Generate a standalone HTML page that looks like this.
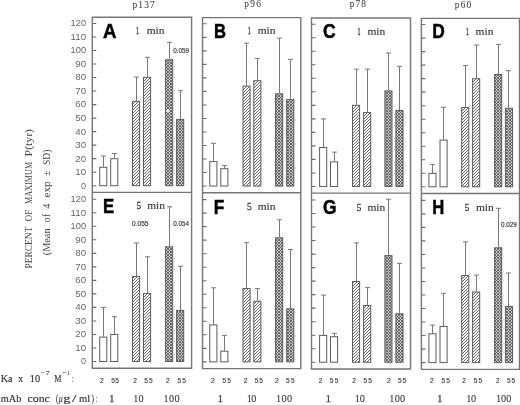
<!DOCTYPE html><html><head><meta charset="utf-8"><style>
html,body{margin:0;padding:0;background:#fff;width:520px;height:405px;overflow:hidden}
svg{display:block;will-change:transform}
.ser{font-family:"Liberation Serif",serif}
.san{font-family:"Liberation Sans",sans-serif}
</style></head><body>
<svg width="520" height="405" viewBox="0 0 520 405">
<defs>
<pattern id="hatch" patternUnits="userSpaceOnUse" width="3" height="3"><path d="M-1,1 L1,-1 M0,3 L3,0 M2,4 L4,2" stroke="#626262" stroke-width="1.0"/></pattern>
<pattern id="cross" patternUnits="userSpaceOnUse" width="3" height="3"><rect width="3" height="3" fill="#d0d0d0"/><path d="M-1,1 L1,-1 M0,3 L3,0 M2,4 L4,2 M-1,2 L1,4 M0,0 L3,3 M2,-1 L4,1" stroke="#444" stroke-width="0.75"/></pattern>
</defs>
<rect width="520" height="405" fill="#fff"/>
<path d="M92.3,17.3 H191.6 V368.3 H92.3 Z M92.3,192.4 H191.6" fill="none" stroke="#767676" stroke-width="1.4"/>
<path d="M92.3,185.70 h4 M92.3,172.18 h4 M92.3,158.66 h4 M92.3,145.14 h4 M92.3,131.62 h4 M92.3,118.10 h4 M92.3,104.58 h4 M92.3,91.06 h4 M92.3,77.54 h4 M92.3,64.02 h4 M92.3,50.50 h4 M92.3,36.98 h4 M92.3,23.46 h4" stroke="#6a6a6a" stroke-width="1.1"/>
<path d="M103.50,166.80 V156.00 M101.00,156.00 h5" stroke="#777" stroke-width="1"/>
<rect x="99.70" y="167.30" width="7.10" height="18.40" fill="#fff" stroke="#5c5c5c" stroke-width="1"/>
<path d="M114.50,158.20 V153.50 M112.00,153.50 h5" stroke="#777" stroke-width="1"/>
<rect x="110.70" y="158.70" width="7.10" height="27.00" fill="#fff" stroke="#5c5c5c" stroke-width="1"/>
<path d="M136.50,100.80 V77.10 M134.00,77.10 h5" stroke="#777" stroke-width="1"/>
<rect x="132.50" y="101.30" width="7.10" height="84.40" fill="url(#hatch)" stroke="#5c5c5c" stroke-width="1"/>
<path d="M147.50,76.80 V57.30 M145.00,57.30 h5" stroke="#777" stroke-width="1"/>
<rect x="143.50" y="77.30" width="7.10" height="108.40" fill="url(#hatch)" stroke="#5c5c5c" stroke-width="1"/>
<path d="M169.50,59.30 V42.30 M167.00,42.30 h5" stroke="#777" stroke-width="1"/>
<rect x="165.60" y="59.80" width="7.10" height="125.90" fill="url(#cross)" stroke="#5c5c5c" stroke-width="1"/>
<path d="M180.50,118.90 V90.70 M178.00,90.70 h5" stroke="#777" stroke-width="1"/>
<rect x="176.60" y="119.40" width="7.10" height="66.30" fill="url(#cross)" stroke="#5c5c5c" stroke-width="1"/>
<path d="M92.3,361.50 h4 M92.3,347.98 h4 M92.3,334.46 h4 M92.3,320.94 h4 M92.3,307.42 h4 M92.3,293.90 h4 M92.3,280.38 h4 M92.3,266.86 h4 M92.3,253.34 h4 M92.3,239.82 h4 M92.3,226.30 h4 M92.3,212.78 h4 M92.3,199.26 h4" stroke="#6a6a6a" stroke-width="1.1"/>
<path d="M103.50,336.60 V307.40 M101.00,307.40 h5" stroke="#777" stroke-width="1"/>
<rect x="99.70" y="337.10" width="7.10" height="24.40" fill="#fff" stroke="#5c5c5c" stroke-width="1"/>
<path d="M114.50,333.90 V316.70 M112.00,316.70 h5" stroke="#777" stroke-width="1"/>
<rect x="110.70" y="334.40" width="7.10" height="27.10" fill="#fff" stroke="#5c5c5c" stroke-width="1"/>
<path d="M136.50,275.90 V243.00 M134.00,243.00 h5" stroke="#777" stroke-width="1"/>
<rect x="132.50" y="276.40" width="7.10" height="85.10" fill="url(#hatch)" stroke="#5c5c5c" stroke-width="1"/>
<path d="M147.50,293.10 V256.80 M145.00,256.80 h5" stroke="#777" stroke-width="1"/>
<rect x="143.50" y="293.60" width="7.10" height="67.90" fill="url(#hatch)" stroke="#5c5c5c" stroke-width="1"/>
<path d="M169.50,246.30 V206.80 M167.00,206.80 h5" stroke="#777" stroke-width="1"/>
<rect x="165.60" y="246.80" width="7.10" height="114.70" fill="url(#cross)" stroke="#5c5c5c" stroke-width="1"/>
<path d="M180.50,309.90 V266.30 M178.00,266.30 h5" stroke="#777" stroke-width="1"/>
<rect x="176.60" y="310.40" width="7.10" height="51.10" fill="url(#cross)" stroke="#5c5c5c" stroke-width="1"/>
<path d="M202.5,17.650000000000002 H300.8 V368.65000000000003 H202.5 Z M202.5,192.75 H300.8" fill="none" stroke="#767676" stroke-width="1.4"/>
<path d="M202.5,186.05 h4 M202.5,172.53 h4 M202.5,159.01 h4 M202.5,145.49 h4 M202.5,131.97 h4 M202.5,118.45 h4 M202.5,104.93 h4 M202.5,91.41 h4 M202.5,77.89 h4 M202.5,64.37 h4 M202.5,50.85 h4 M202.5,37.33 h4 M202.5,23.81 h4" stroke="#6a6a6a" stroke-width="1.1"/>
<path d="M213.50,161.10 V143.30 M211.00,143.30 h5" stroke="#777" stroke-width="1"/>
<rect x="209.80" y="161.60" width="7.10" height="24.45" fill="#fff" stroke="#5c5c5c" stroke-width="1"/>
<path d="M224.50,168.20 V165.60 M222.00,165.60 h5" stroke="#777" stroke-width="1"/>
<rect x="220.80" y="168.70" width="7.10" height="17.35" fill="#fff" stroke="#5c5c5c" stroke-width="1"/>
<path d="M246.50,85.60 V43.20 M244.00,43.20 h5" stroke="#777" stroke-width="1"/>
<rect x="243.00" y="86.10" width="7.10" height="99.95" fill="url(#hatch)" stroke="#5c5c5c" stroke-width="1"/>
<path d="M257.50,80.20 V58.40 M255.00,58.40 h5" stroke="#777" stroke-width="1"/>
<rect x="253.80" y="80.70" width="7.10" height="105.35" fill="url(#hatch)" stroke="#5c5c5c" stroke-width="1"/>
<path d="M279.50,93.30 V38.10 M277.00,38.10 h5" stroke="#777" stroke-width="1"/>
<rect x="275.60" y="93.80" width="7.10" height="92.25" fill="url(#cross)" stroke="#5c5c5c" stroke-width="1"/>
<path d="M290.50,99.10 V59.30 M288.00,59.30 h5" stroke="#777" stroke-width="1"/>
<rect x="286.70" y="99.60" width="7.10" height="86.45" fill="url(#cross)" stroke="#5c5c5c" stroke-width="1"/>
<path d="M202.5,361.85 h4 M202.5,348.33 h4 M202.5,334.81 h4 M202.5,321.29 h4 M202.5,307.77 h4 M202.5,294.25 h4 M202.5,280.73 h4 M202.5,267.21 h4 M202.5,253.69 h4 M202.5,240.17 h4 M202.5,226.65 h4 M202.5,213.13 h4 M202.5,199.61 h4" stroke="#6a6a6a" stroke-width="1.1"/>
<path d="M213.50,324.40 V287.80 M211.00,287.80 h5" stroke="#777" stroke-width="1"/>
<rect x="209.80" y="324.90" width="7.10" height="36.95" fill="#fff" stroke="#5c5c5c" stroke-width="1"/>
<path d="M224.50,350.70 V335.60 M222.00,335.60 h5" stroke="#777" stroke-width="1"/>
<rect x="220.80" y="351.20" width="7.10" height="10.65" fill="#fff" stroke="#5c5c5c" stroke-width="1"/>
<path d="M246.50,288.00 V242.70 M244.00,242.70 h5" stroke="#777" stroke-width="1"/>
<rect x="243.00" y="288.50" width="7.10" height="73.35" fill="url(#hatch)" stroke="#5c5c5c" stroke-width="1"/>
<path d="M257.50,300.70 V288.60 M255.00,288.60 h5" stroke="#777" stroke-width="1"/>
<rect x="253.80" y="301.20" width="7.10" height="60.65" fill="url(#hatch)" stroke="#5c5c5c" stroke-width="1"/>
<path d="M279.50,237.30 V219.80 M277.00,219.80 h5" stroke="#777" stroke-width="1"/>
<rect x="275.60" y="237.80" width="7.10" height="124.05" fill="url(#cross)" stroke="#5c5c5c" stroke-width="1"/>
<path d="M290.50,308.30 V249.50 M288.00,249.50 h5" stroke="#777" stroke-width="1"/>
<rect x="286.70" y="308.80" width="7.10" height="53.05" fill="url(#cross)" stroke="#5c5c5c" stroke-width="1"/>
<path d="M311.5,18.05 H410.5 V369.05 H311.5 Z M311.5,193.15 H410.5" fill="none" stroke="#767676" stroke-width="1.4"/>
<path d="M311.5,186.45 h4 M311.5,172.93 h4 M311.5,159.41 h4 M311.5,145.89 h4 M311.5,132.37 h4 M311.5,118.85 h4 M311.5,105.33 h4 M311.5,91.81 h4 M311.5,78.29 h4 M311.5,64.77 h4 M311.5,51.25 h4 M311.5,37.73 h4 M311.5,24.21 h4" stroke="#6a6a6a" stroke-width="1.1"/>
<path d="M323.50,147.00 V118.90 M321.00,118.90 h5" stroke="#777" stroke-width="1"/>
<rect x="319.60" y="147.50" width="7.10" height="38.95" fill="#fff" stroke="#5c5c5c" stroke-width="1"/>
<path d="M334.50,161.40 V152.10 M332.00,152.10 h5" stroke="#777" stroke-width="1"/>
<rect x="330.50" y="161.90" width="7.10" height="24.55" fill="#fff" stroke="#5c5c5c" stroke-width="1"/>
<path d="M356.50,104.80 V69.20 M354.00,69.20 h5" stroke="#777" stroke-width="1"/>
<rect x="352.50" y="105.30" width="7.10" height="81.15" fill="url(#hatch)" stroke="#5c5c5c" stroke-width="1"/>
<path d="M367.50,112.10 V69.20 M365.00,69.20 h5" stroke="#777" stroke-width="1"/>
<rect x="363.60" y="112.60" width="7.10" height="73.85" fill="url(#hatch)" stroke="#5c5c5c" stroke-width="1"/>
<path d="M388.50,90.40 V53.00 M386.00,53.00 h5" stroke="#777" stroke-width="1"/>
<rect x="384.90" y="90.90" width="7.10" height="95.55" fill="url(#cross)" stroke="#5c5c5c" stroke-width="1"/>
<path d="M399.50,110.00 V66.30 M397.00,66.30 h5" stroke="#777" stroke-width="1"/>
<rect x="395.90" y="110.50" width="7.10" height="75.95" fill="url(#cross)" stroke="#5c5c5c" stroke-width="1"/>
<path d="M311.5,362.25 h4 M311.5,348.73 h4 M311.5,335.21 h4 M311.5,321.69 h4 M311.5,308.17 h4 M311.5,294.65 h4 M311.5,281.13 h4 M311.5,267.61 h4 M311.5,254.09 h4 M311.5,240.57 h4 M311.5,227.05 h4 M311.5,213.53 h4 M311.5,200.01 h4" stroke="#6a6a6a" stroke-width="1.1"/>
<path d="M323.50,334.90 V295.10 M321.00,295.10 h5" stroke="#777" stroke-width="1"/>
<rect x="319.60" y="335.40" width="7.10" height="26.85" fill="#fff" stroke="#5c5c5c" stroke-width="1"/>
<path d="M334.50,336.20 V333.30 M332.00,333.30 h5" stroke="#777" stroke-width="1"/>
<rect x="330.50" y="336.70" width="7.10" height="25.55" fill="#fff" stroke="#5c5c5c" stroke-width="1"/>
<path d="M356.50,281.10 V242.90 M354.00,242.90 h5" stroke="#777" stroke-width="1"/>
<rect x="352.50" y="281.60" width="7.10" height="80.65" fill="url(#hatch)" stroke="#5c5c5c" stroke-width="1"/>
<path d="M367.50,305.00 V287.60 M365.00,287.60 h5" stroke="#777" stroke-width="1"/>
<rect x="363.60" y="305.50" width="7.10" height="56.75" fill="url(#hatch)" stroke="#5c5c5c" stroke-width="1"/>
<path d="M388.50,255.10 V199.20 M386.00,199.20 h5" stroke="#777" stroke-width="1"/>
<rect x="384.90" y="255.60" width="7.10" height="106.65" fill="url(#cross)" stroke="#5c5c5c" stroke-width="1"/>
<path d="M399.50,313.20 V263.40 M397.00,263.40 h5" stroke="#777" stroke-width="1"/>
<rect x="395.90" y="313.70" width="7.10" height="48.55" fill="url(#cross)" stroke="#5c5c5c" stroke-width="1"/>
<path d="M421.4,18.400000000000002 H519.5 V369.40000000000003 H421.4 Z M421.4,193.5 H519.5" fill="none" stroke="#767676" stroke-width="1.4"/>
<path d="M421.4,186.80 h4 M421.4,173.28 h4 M421.4,159.76 h4 M421.4,146.24 h4 M421.4,132.72 h4 M421.4,119.20 h4 M421.4,105.68 h4 M421.4,92.16 h4 M421.4,78.64 h4 M421.4,65.12 h4 M421.4,51.60 h4 M421.4,38.08 h4 M421.4,24.56 h4" stroke="#6a6a6a" stroke-width="1.1"/>
<path d="M432.50,172.90 V164.40 M430.00,164.40 h5" stroke="#777" stroke-width="1"/>
<rect x="428.90" y="173.40" width="7.10" height="13.40" fill="#fff" stroke="#5c5c5c" stroke-width="1"/>
<path d="M443.50,139.60 V107.30 M441.00,107.30 h5" stroke="#777" stroke-width="1"/>
<rect x="440.00" y="140.10" width="7.10" height="46.70" fill="#fff" stroke="#5c5c5c" stroke-width="1"/>
<path d="M465.50,107.10 V65.60 M463.00,65.60 h5" stroke="#777" stroke-width="1"/>
<rect x="461.70" y="107.60" width="7.10" height="79.20" fill="url(#hatch)" stroke="#5c5c5c" stroke-width="1"/>
<path d="M476.50,78.20 V45.10 M474.00,45.10 h5" stroke="#777" stroke-width="1"/>
<rect x="472.60" y="78.70" width="7.10" height="108.10" fill="url(#hatch)" stroke="#5c5c5c" stroke-width="1"/>
<path d="M498.50,74.00 V44.40 M496.00,44.40 h5" stroke="#777" stroke-width="1"/>
<rect x="494.60" y="74.50" width="7.10" height="112.30" fill="url(#cross)" stroke="#5c5c5c" stroke-width="1"/>
<path d="M508.50,107.80 V70.70 M506.00,70.70 h5" stroke="#777" stroke-width="1"/>
<rect x="505.40" y="108.30" width="7.10" height="78.50" fill="url(#cross)" stroke="#5c5c5c" stroke-width="1"/>
<path d="M421.4,362.60 h4 M421.4,349.08 h4 M421.4,335.56 h4 M421.4,322.04 h4 M421.4,308.52 h4 M421.4,295.00 h4 M421.4,281.48 h4 M421.4,267.96 h4 M421.4,254.44 h4 M421.4,240.92 h4 M421.4,227.40 h4 M421.4,213.88 h4 M421.4,200.36 h4" stroke="#6a6a6a" stroke-width="1.1"/>
<path d="M432.50,333.30 V325.10 M430.00,325.10 h5" stroke="#777" stroke-width="1"/>
<rect x="428.90" y="333.80" width="7.10" height="28.80" fill="#fff" stroke="#5c5c5c" stroke-width="1"/>
<path d="M443.50,326.00 V293.30 M441.00,293.30 h5" stroke="#777" stroke-width="1"/>
<rect x="440.00" y="326.50" width="7.10" height="36.10" fill="#fff" stroke="#5c5c5c" stroke-width="1"/>
<path d="M465.50,275.10 V241.80 M463.00,241.80 h5" stroke="#777" stroke-width="1"/>
<rect x="461.70" y="275.60" width="7.10" height="87.00" fill="url(#hatch)" stroke="#5c5c5c" stroke-width="1"/>
<path d="M476.50,291.50 V275.10 M474.00,275.10 h5" stroke="#777" stroke-width="1"/>
<rect x="472.60" y="292.00" width="7.10" height="70.60" fill="url(#hatch)" stroke="#5c5c5c" stroke-width="1"/>
<path d="M498.50,247.30 V208.30 M496.00,208.30 h5" stroke="#777" stroke-width="1"/>
<rect x="494.60" y="247.80" width="7.10" height="114.80" fill="url(#cross)" stroke="#5c5c5c" stroke-width="1"/>
<path d="M508.50,306.00 V273.00 M506.00,273.00 h5" stroke="#777" stroke-width="1"/>
<rect x="505.40" y="306.50" width="7.10" height="56.10" fill="url(#cross)" stroke="#5c5c5c" stroke-width="1"/>
<ellipse cx="167.9" cy="110.6" rx="1.4" ry="1.5" fill="#f4f4f4"/>
<text x="81.00" y="188.60" font-family='"Liberation Sans",sans-serif' font-size="8.6" fill="#666" textLength="5.10" lengthAdjust="spacingAndGlyphs">0</text>
<text x="75.30" y="175.08" font-family='"Liberation Sans",sans-serif' font-size="8.6" fill="#666" textLength="10.80" lengthAdjust="spacingAndGlyphs">10</text>
<text x="75.30" y="161.56" font-family='"Liberation Sans",sans-serif' font-size="8.6" fill="#666" textLength="10.80" lengthAdjust="spacingAndGlyphs">20</text>
<text x="75.30" y="148.04" font-family='"Liberation Sans",sans-serif' font-size="8.6" fill="#666" textLength="10.80" lengthAdjust="spacingAndGlyphs">30</text>
<text x="75.30" y="134.52" font-family='"Liberation Sans",sans-serif' font-size="8.6" fill="#666" textLength="10.80" lengthAdjust="spacingAndGlyphs">40</text>
<text x="75.30" y="121.00" font-family='"Liberation Sans",sans-serif' font-size="8.6" fill="#666" textLength="10.80" lengthAdjust="spacingAndGlyphs">50</text>
<text x="75.30" y="107.48" font-family='"Liberation Sans",sans-serif' font-size="8.6" fill="#666" textLength="10.80" lengthAdjust="spacingAndGlyphs">60</text>
<text x="75.30" y="93.96" font-family='"Liberation Sans",sans-serif' font-size="8.6" fill="#666" textLength="10.80" lengthAdjust="spacingAndGlyphs">70</text>
<text x="75.30" y="80.44" font-family='"Liberation Sans",sans-serif' font-size="8.6" fill="#666" textLength="10.80" lengthAdjust="spacingAndGlyphs">80</text>
<text x="75.30" y="66.92" font-family='"Liberation Sans",sans-serif' font-size="8.6" fill="#666" textLength="10.80" lengthAdjust="spacingAndGlyphs">90</text>
<text x="70.60" y="53.40" font-family='"Liberation Sans",sans-serif' font-size="8.6" fill="#666" textLength="15.50" lengthAdjust="spacingAndGlyphs">100</text>
<text x="70.60" y="39.88" font-family='"Liberation Sans",sans-serif' font-size="8.6" fill="#666" textLength="15.50" lengthAdjust="spacingAndGlyphs">110</text>
<text x="70.60" y="26.36" font-family='"Liberation Sans",sans-serif' font-size="8.6" fill="#666" textLength="15.50" lengthAdjust="spacingAndGlyphs">120</text>
<text x="81.00" y="364.40" font-family='"Liberation Sans",sans-serif' font-size="8.6" fill="#666" textLength="5.10" lengthAdjust="spacingAndGlyphs">0</text>
<text x="75.30" y="350.88" font-family='"Liberation Sans",sans-serif' font-size="8.6" fill="#666" textLength="10.80" lengthAdjust="spacingAndGlyphs">10</text>
<text x="75.30" y="337.36" font-family='"Liberation Sans",sans-serif' font-size="8.6" fill="#666" textLength="10.80" lengthAdjust="spacingAndGlyphs">20</text>
<text x="75.30" y="323.84" font-family='"Liberation Sans",sans-serif' font-size="8.6" fill="#666" textLength="10.80" lengthAdjust="spacingAndGlyphs">30</text>
<text x="75.30" y="310.32" font-family='"Liberation Sans",sans-serif' font-size="8.6" fill="#666" textLength="10.80" lengthAdjust="spacingAndGlyphs">40</text>
<text x="75.30" y="296.80" font-family='"Liberation Sans",sans-serif' font-size="8.6" fill="#666" textLength="10.80" lengthAdjust="spacingAndGlyphs">50</text>
<text x="75.30" y="283.28" font-family='"Liberation Sans",sans-serif' font-size="8.6" fill="#666" textLength="10.80" lengthAdjust="spacingAndGlyphs">60</text>
<text x="75.30" y="269.76" font-family='"Liberation Sans",sans-serif' font-size="8.6" fill="#666" textLength="10.80" lengthAdjust="spacingAndGlyphs">70</text>
<text x="75.30" y="256.24" font-family='"Liberation Sans",sans-serif' font-size="8.6" fill="#666" textLength="10.80" lengthAdjust="spacingAndGlyphs">80</text>
<text x="75.30" y="242.72" font-family='"Liberation Sans",sans-serif' font-size="8.6" fill="#666" textLength="10.80" lengthAdjust="spacingAndGlyphs">90</text>
<text x="70.60" y="229.20" font-family='"Liberation Sans",sans-serif' font-size="8.6" fill="#666" textLength="15.50" lengthAdjust="spacingAndGlyphs">100</text>
<text x="70.60" y="215.68" font-family='"Liberation Sans",sans-serif' font-size="8.6" fill="#666" textLength="15.50" lengthAdjust="spacingAndGlyphs">110</text>
<text x="70.60" y="202.16" font-family='"Liberation Sans",sans-serif' font-size="8.6" fill="#666" textLength="15.50" lengthAdjust="spacingAndGlyphs">120</text>
<text x="103.00" y="38.00" font-family='"Liberation Sans",sans-serif' font-size="20" font-weight="bold" stroke="#000" stroke-width="0.5" fill="#000" textLength="13.50" lengthAdjust="spacingAndGlyphs">A</text>
<text x="214.00" y="38.00" font-family='"Liberation Sans",sans-serif' font-size="20" font-weight="bold" stroke="#000" stroke-width="0.5" fill="#000" textLength="12.00" lengthAdjust="spacingAndGlyphs">B</text>
<text x="323.00" y="38.30" font-family='"Liberation Sans",sans-serif' font-size="20" font-weight="bold" stroke="#000" stroke-width="0.5" fill="#000" textLength="12.70" lengthAdjust="spacingAndGlyphs">C</text>
<text x="432.20" y="38.00" font-family='"Liberation Sans",sans-serif' font-size="20" font-weight="bold" stroke="#000" stroke-width="0.5" fill="#000" textLength="12.50" lengthAdjust="spacingAndGlyphs">D</text>
<text x="103.00" y="213.20" font-family='"Liberation Sans",sans-serif' font-size="20" font-weight="bold" stroke="#000" stroke-width="0.5" fill="#000" textLength="11.20" lengthAdjust="spacingAndGlyphs">E</text>
<text x="213.70" y="213.50" font-family='"Liberation Sans",sans-serif' font-size="20" font-weight="bold" stroke="#000" stroke-width="0.5" fill="#000" textLength="10.50" lengthAdjust="spacingAndGlyphs">F</text>
<text x="323.00" y="214.00" font-family='"Liberation Sans",sans-serif' font-size="20" font-weight="bold" stroke="#000" stroke-width="0.5" fill="#000" textLength="13.50" lengthAdjust="spacingAndGlyphs">G</text>
<text x="432.20" y="213.70" font-family='"Liberation Sans",sans-serif' font-size="20" font-weight="bold" stroke="#000" stroke-width="0.5" fill="#000" textLength="12.00" lengthAdjust="spacingAndGlyphs">H</text>
<text x="136.00" y="33.70" font-family='"Liberation Serif",serif' font-size="10.4" stroke="#333" stroke-width="0.3" fill="#333" textLength="3.00" lengthAdjust="spacingAndGlyphs">1</text>
<text x="146.70" y="33.70" font-family='"Liberation Serif",serif' font-size="10" stroke="#333" stroke-width="0.12" fill="#333" textLength="17.80" lengthAdjust="spacingAndGlyphs">min</text>
<text x="247.70" y="34.20" font-family='"Liberation Serif",serif' font-size="10.4" stroke="#333" stroke-width="0.3" fill="#333" textLength="3.00" lengthAdjust="spacingAndGlyphs">1</text>
<text x="257.70" y="34.20" font-family='"Liberation Serif",serif' font-size="10" stroke="#333" stroke-width="0.12" fill="#333" textLength="17.80" lengthAdjust="spacingAndGlyphs">min</text>
<text x="357.50" y="34.70" font-family='"Liberation Serif",serif' font-size="10.4" stroke="#333" stroke-width="0.3" fill="#333" textLength="3.00" lengthAdjust="spacingAndGlyphs">1</text>
<text x="367.40" y="34.70" font-family='"Liberation Serif",serif' font-size="10" stroke="#333" stroke-width="0.12" fill="#333" textLength="17.80" lengthAdjust="spacingAndGlyphs">min</text>
<text x="466.00" y="35.00" font-family='"Liberation Serif",serif' font-size="10.4" stroke="#333" stroke-width="0.3" fill="#333" textLength="3.00" lengthAdjust="spacingAndGlyphs">1</text>
<text x="475.60" y="35.00" font-family='"Liberation Serif",serif' font-size="10" stroke="#333" stroke-width="0.12" fill="#333" textLength="17.80" lengthAdjust="spacingAndGlyphs">min</text>
<text x="136.60" y="209.30" font-family='"Liberation Serif",serif' font-size="10.4" stroke="#333" stroke-width="0.3" fill="#333" textLength="4.60" lengthAdjust="spacingAndGlyphs">5</text>
<text x="147.20" y="209.30" font-family='"Liberation Serif",serif' font-size="10" stroke="#333" stroke-width="0.12" fill="#333" textLength="17.80" lengthAdjust="spacingAndGlyphs">min</text>
<text x="247.00" y="210.00" font-family='"Liberation Serif",serif' font-size="10.4" stroke="#333" stroke-width="0.3" fill="#333" textLength="4.60" lengthAdjust="spacingAndGlyphs">5</text>
<text x="257.70" y="210.00" font-family='"Liberation Serif",serif' font-size="10" stroke="#333" stroke-width="0.12" fill="#333" textLength="17.80" lengthAdjust="spacingAndGlyphs">min</text>
<text x="356.70" y="210.50" font-family='"Liberation Serif",serif' font-size="10.4" stroke="#333" stroke-width="0.3" fill="#333" textLength="4.60" lengthAdjust="spacingAndGlyphs">5</text>
<text x="367.40" y="210.50" font-family='"Liberation Serif",serif' font-size="10" stroke="#333" stroke-width="0.12" fill="#333" textLength="17.80" lengthAdjust="spacingAndGlyphs">min</text>
<text x="464.80" y="211.00" font-family='"Liberation Serif",serif' font-size="10.4" stroke="#333" stroke-width="0.3" fill="#333" textLength="4.60" lengthAdjust="spacingAndGlyphs">5</text>
<text x="475.90" y="211.00" font-family='"Liberation Serif",serif' font-size="10" stroke="#333" stroke-width="0.12" fill="#333" textLength="17.80" lengthAdjust="spacingAndGlyphs">min</text>
<text x="132.50" y="8.00" font-family='"Liberation Serif",serif' font-size="9.4" stroke="#3a3a3a" stroke-width="0.05" fill="#3a3a3a" textLength="22.25" lengthAdjust="spacing">p137</text>
<text x="244.25" y="6.80" font-family='"Liberation Serif",serif' font-size="9.4" stroke="#3a3a3a" stroke-width="0.05" fill="#3a3a3a" textLength="16.75" lengthAdjust="spacing">p96</text>
<text x="349.75" y="6.75" font-family='"Liberation Serif",serif' font-size="9.4" stroke="#3a3a3a" stroke-width="0.05" fill="#3a3a3a" textLength="16.25" lengthAdjust="spacing">p78</text>
<text x="454.75" y="7.80" font-family='"Liberation Serif",serif' font-size="9.4" stroke="#3a3a3a" stroke-width="0.05" fill="#3a3a3a" textLength="16.50" lengthAdjust="spacing">p60</text>
<text x="173.20" y="52.90" font-family='"Liberation Sans",sans-serif' font-size="6.5" stroke="#333" stroke-width="0.15" fill="#333" textLength="16.00" lengthAdjust="spacingAndGlyphs">0.059</text>
<text x="132.00" y="225.50" font-family='"Liberation Sans",sans-serif' font-size="6.5" stroke="#333" stroke-width="0.15" fill="#333" textLength="16.50" lengthAdjust="spacingAndGlyphs">0.055</text>
<text x="173.20" y="225.90" font-family='"Liberation Sans",sans-serif' font-size="6.5" stroke="#333" stroke-width="0.15" fill="#333" textLength="15.90" lengthAdjust="spacingAndGlyphs">0.054</text>
<text x="501.00" y="226.70" font-family='"Liberation Sans",sans-serif' font-size="6.5" stroke="#333" stroke-width="0.15" fill="#333" textLength="15.90" lengthAdjust="spacingAndGlyphs">0.029</text>
<text transform="translate(31.80,268.40) rotate(-90)" x="0" y="0" font-family='"Liberation Serif",serif' font-size="9.4" fill="#444" textLength="41.80" lengthAdjust="spacingAndGlyphs">PERCENT</text>
<text transform="translate(31.80,221.20) rotate(-90)" x="0" y="0" font-family='"Liberation Serif",serif' font-size="9.4" fill="#444" textLength="11.40" lengthAdjust="spacingAndGlyphs">OF</text>
<text transform="translate(31.80,203.90) rotate(-90)" x="0" y="0" font-family='"Liberation Serif",serif' font-size="9.4" fill="#444" textLength="42.10" lengthAdjust="spacingAndGlyphs">MAXIMUM</text>
<text transform="translate(31.80,156.40) rotate(-90)" x="0" y="0" font-family='"Liberation Serif",serif' font-size="9.4" fill="#444" textLength="27.40" lengthAdjust="spacingAndGlyphs">P(tyr)</text>
<text transform="translate(49.50,255.30) rotate(-90)" x="0" y="0" font-family='"Liberation Serif",serif' font-size="10.2" fill="#444" textLength="26.90" lengthAdjust="spacingAndGlyphs">(Mean</text>
<text transform="translate(49.50,222.50) rotate(-90)" x="0" y="0" font-family='"Liberation Serif",serif' font-size="10.2" fill="#444" textLength="8.69" lengthAdjust="spacingAndGlyphs">of</text>
<text transform="translate(49.50,208.70) rotate(-90)" x="0" y="0" font-family='"Liberation Serif",serif' font-size="10.2" fill="#444" textLength="5.10" lengthAdjust="spacingAndGlyphs">4</text>
<text transform="translate(49.50,197.50) rotate(-90)" x="0" y="0" font-family='"Liberation Serif",serif' font-size="10.2" fill="#444" textLength="16.00" lengthAdjust="spacingAndGlyphs">exp</text>
<text transform="translate(49.50,176.00) rotate(-90)" x="0" y="0" font-family='"Liberation Serif",serif' font-size="10.2" fill="#444" textLength="5.70" lengthAdjust="spacingAndGlyphs">±</text>
<text transform="translate(49.50,165.00) rotate(-90)" x="0" y="0" font-family='"Liberation Serif",serif' font-size="10.2" fill="#444" textLength="15.50" lengthAdjust="spacingAndGlyphs">SD)</text>
<text x="0.75" y="381.80" font-family='"Liberation Serif",serif' font-size="10.2" stroke="#333" stroke-width="0.15" fill="#333" textLength="11.75" lengthAdjust="spacingAndGlyphs">Ka</text>
<text x="18.00" y="381.80" font-family='"Liberation Serif",serif' font-size="10.2" stroke="#333" stroke-width="0.15" fill="#333" textLength="5.25" lengthAdjust="spacingAndGlyphs">x</text>
<text x="29.75" y="381.80" font-family='"Liberation Serif",serif' font-size="10.2" stroke="#333" stroke-width="0.15" fill="#333" textLength="10.25" lengthAdjust="spacingAndGlyphs">10</text>
<text x="41.00" y="374.90" font-family='"Liberation Serif",serif' font-size="7" stroke="#333" stroke-width="0.15" fill="#333" textLength="3.40" lengthAdjust="spacingAndGlyphs">−</text>
<text x="45.75" y="374.75" font-family='"Liberation Serif",serif' font-size="7" stroke="#333" stroke-width="0.15" fill="#333" textLength="3.75" lengthAdjust="spacingAndGlyphs">7</text>
<text x="54.30" y="382.00" font-family='"Liberation Serif",serif' font-size="10.2" stroke="#333" stroke-width="0.15" fill="#333" textLength="7.20" lengthAdjust="spacingAndGlyphs">M</text>
<text x="62.40" y="375.20" font-family='"Liberation Serif",serif' font-size="7" stroke="#333" stroke-width="0.15" fill="#333" textLength="3.90" lengthAdjust="spacingAndGlyphs">−</text>
<text x="67.30" y="375.20" font-family='"Liberation Serif",serif' font-size="7" stroke="#333" stroke-width="0.15" fill="#333" textLength="2.30" lengthAdjust="spacingAndGlyphs">1</text>
<text x="72.10" y="382.00" font-family='"Liberation Serif",serif' font-size="10.2" stroke="#333" stroke-width="0.15" fill="#333" textLength="1.70" lengthAdjust="spacingAndGlyphs">:</text>
<text x="0.80" y="402.20" font-family='"Liberation Serif",serif' font-size="10.2" stroke="#333" stroke-width="0.15" fill="#333" textLength="20.70" lengthAdjust="spacingAndGlyphs">mAb</text>
<text x="27.50" y="402.20" font-family='"Liberation Serif",serif' font-size="10.2" stroke="#333" stroke-width="0.15" fill="#333" textLength="22.30" lengthAdjust="spacingAndGlyphs">conc</text>
<text x="56.00" y="402.20" font-family='"Liberation Serif",serif' font-size="10.2" stroke="#333" stroke-width="0.15" fill="#333" textLength="2.25" lengthAdjust="spacingAndGlyphs">(</text>
<text x="58.76" y="402.20" font-family='"Liberation Serif",serif' font-size="10.2" font-style="italic" stroke="#333" stroke-width="0.15" fill="#333" textLength="3.99" lengthAdjust="spacingAndGlyphs">μ</text>
<text x="63.25" y="402.20" font-family='"Liberation Serif",serif' font-size="10.2" stroke="#333" stroke-width="0.15" fill="#333" textLength="7.25" lengthAdjust="spacingAndGlyphs">g</text>
<text x="72.00" y="402.20" font-family='"Liberation Serif",serif' font-size="10.2" stroke="#333" stroke-width="0.15" fill="#333" textLength="4.50" lengthAdjust="spacingAndGlyphs">/</text>
<text x="79.00" y="402.20" font-family='"Liberation Serif",serif' font-size="10.2" stroke="#333" stroke-width="0.15" fill="#333" textLength="11.30" lengthAdjust="spacingAndGlyphs">ml</text>
<text x="91.50" y="402.20" font-family='"Liberation Serif",serif' font-size="10.2" stroke="#333" stroke-width="0.15" fill="#333" textLength="2.50" lengthAdjust="spacingAndGlyphs">)</text>
<text x="95.80" y="402.20" font-family='"Liberation Serif",serif' font-size="10.2" stroke="#333" stroke-width="0.15" fill="#333" textLength="1.40" lengthAdjust="spacingAndGlyphs">:</text>
<text x="100.10" y="382.50" font-family='"Liberation Sans",sans-serif' font-size="6.6" stroke="#333" stroke-width="0.1" fill="#333" textLength="3.80" lengthAdjust="spacing">2</text>
<text x="111.20" y="382.50" font-family='"Liberation Sans",sans-serif' font-size="6.6" stroke="#333" stroke-width="0.1" fill="#333" textLength="7.70" lengthAdjust="spacing">55</text>
<text x="133.30" y="382.50" font-family='"Liberation Sans",sans-serif' font-size="6.6" stroke="#333" stroke-width="0.1" fill="#333" textLength="3.90" lengthAdjust="spacing">2</text>
<text x="144.30" y="382.50" font-family='"Liberation Sans",sans-serif' font-size="6.6" stroke="#333" stroke-width="0.1" fill="#333" textLength="8.30" lengthAdjust="spacing">55</text>
<text x="166.00" y="382.50" font-family='"Liberation Sans",sans-serif' font-size="6.6" stroke="#333" stroke-width="0.1" fill="#333" textLength="3.90" lengthAdjust="spacing">2</text>
<text x="177.60" y="382.50" font-family='"Liberation Sans",sans-serif' font-size="6.6" stroke="#333" stroke-width="0.1" fill="#333" textLength="8.20" lengthAdjust="spacing">55</text>
<text x="211.00" y="382.50" font-family='"Liberation Sans",sans-serif' font-size="6.6" stroke="#333" stroke-width="0.1" fill="#333" textLength="3.80" lengthAdjust="spacing">2</text>
<text x="222.50" y="382.50" font-family='"Liberation Sans",sans-serif' font-size="6.6" stroke="#333" stroke-width="0.1" fill="#333" textLength="8.30" lengthAdjust="spacing">55</text>
<text x="243.80" y="382.50" font-family='"Liberation Sans",sans-serif' font-size="6.6" stroke="#333" stroke-width="0.1" fill="#333" textLength="3.90" lengthAdjust="spacing">2</text>
<text x="254.80" y="382.50" font-family='"Liberation Sans",sans-serif' font-size="6.6" stroke="#333" stroke-width="0.1" fill="#333" textLength="8.20" lengthAdjust="spacing">55</text>
<text x="275.00" y="382.50" font-family='"Liberation Sans",sans-serif' font-size="6.6" stroke="#333" stroke-width="0.1" fill="#333" textLength="3.80" lengthAdjust="spacing">2</text>
<text x="286.00" y="382.50" font-family='"Liberation Sans",sans-serif' font-size="6.6" stroke="#333" stroke-width="0.1" fill="#333" textLength="8.60" lengthAdjust="spacing">55</text>
<text x="318.70" y="382.50" font-family='"Liberation Sans",sans-serif' font-size="6.6" stroke="#333" stroke-width="0.1" fill="#333" textLength="4.00" lengthAdjust="spacing">2</text>
<text x="329.80" y="382.50" font-family='"Liberation Sans",sans-serif' font-size="6.6" stroke="#333" stroke-width="0.1" fill="#333" textLength="8.70" lengthAdjust="spacing">55</text>
<text x="352.30" y="382.50" font-family='"Liberation Sans",sans-serif' font-size="6.6" stroke="#333" stroke-width="0.1" fill="#333" textLength="3.90" lengthAdjust="spacing">2</text>
<text x="363.50" y="382.50" font-family='"Liberation Sans",sans-serif' font-size="6.6" stroke="#333" stroke-width="0.1" fill="#333" textLength="8.40" lengthAdjust="spacing">55</text>
<text x="386.90" y="382.50" font-family='"Liberation Sans",sans-serif' font-size="6.6" stroke="#333" stroke-width="0.1" fill="#333" textLength="3.90" lengthAdjust="spacing">2</text>
<text x="398.00" y="382.50" font-family='"Liberation Sans",sans-serif' font-size="6.6" stroke="#333" stroke-width="0.1" fill="#333" textLength="8.20" lengthAdjust="spacing">55</text>
<text x="430.00" y="382.50" font-family='"Liberation Sans",sans-serif' font-size="6.6" stroke="#333" stroke-width="0.1" fill="#333" textLength="3.80" lengthAdjust="spacing">2</text>
<text x="441.50" y="382.50" font-family='"Liberation Sans",sans-serif' font-size="6.6" stroke="#333" stroke-width="0.1" fill="#333" textLength="8.30" lengthAdjust="spacing">55</text>
<text x="462.30" y="382.50" font-family='"Liberation Sans",sans-serif' font-size="6.6" stroke="#333" stroke-width="0.1" fill="#333" textLength="3.90" lengthAdjust="spacing">2</text>
<text x="473.80" y="382.50" font-family='"Liberation Sans",sans-serif' font-size="6.6" stroke="#333" stroke-width="0.1" fill="#333" textLength="8.30" lengthAdjust="spacing">55</text>
<text x="496.00" y="382.50" font-family='"Liberation Sans",sans-serif' font-size="6.6" stroke="#333" stroke-width="0.1" fill="#333" textLength="4.00" lengthAdjust="spacing">2</text>
<text x="506.90" y="382.50" font-family='"Liberation Sans",sans-serif' font-size="6.6" stroke="#333" stroke-width="0.1" fill="#333" textLength="8.30" lengthAdjust="spacing">55</text>
<text x="109.30" y="402.20" font-family='"Liberation Serif",serif' font-size="10.2" stroke="#3a3a3a" stroke-width="0.25" fill="#3a3a3a" textLength="2.90" lengthAdjust="spacing">1</text>
<text x="133.30" y="402.20" font-family='"Liberation Serif",serif' font-size="10.2" stroke="#3a3a3a" stroke-width="0.1" fill="#3a3a3a" textLength="10.20" lengthAdjust="spacing">10</text>
<text x="163.50" y="402.20" font-family='"Liberation Serif",serif' font-size="10.2" stroke="#3a3a3a" stroke-width="0.1" fill="#3a3a3a" textLength="16.00" lengthAdjust="spacing">100</text>
<text x="217.70" y="402.20" font-family='"Liberation Serif",serif' font-size="10.2" stroke="#3a3a3a" stroke-width="0.25" fill="#3a3a3a" textLength="3.10" lengthAdjust="spacing">1</text>
<text x="246.70" y="402.20" font-family='"Liberation Serif",serif' font-size="10.2" stroke="#3a3a3a" stroke-width="0.1" fill="#3a3a3a" textLength="9.60" lengthAdjust="spacing">10</text>
<text x="276.00" y="402.20" font-family='"Liberation Serif",serif' font-size="10.2" stroke="#3a3a3a" stroke-width="0.1" fill="#3a3a3a" textLength="16.00" lengthAdjust="spacing">100</text>
<text x="325.80" y="402.20" font-family='"Liberation Serif",serif' font-size="10.2" stroke="#3a3a3a" stroke-width="0.25" fill="#3a3a3a" textLength="3.40" lengthAdjust="spacing">1</text>
<text x="354.80" y="402.20" font-family='"Liberation Serif",serif' font-size="10.2" stroke="#3a3a3a" stroke-width="0.1" fill="#3a3a3a" textLength="10.00" lengthAdjust="spacing">10</text>
<text x="389.20" y="402.20" font-family='"Liberation Serif",serif' font-size="10.2" stroke="#3a3a3a" stroke-width="0.1" fill="#3a3a3a" textLength="16.00" lengthAdjust="spacing">100</text>
<text x="437.30" y="402.20" font-family='"Liberation Serif",serif' font-size="10.2" stroke="#3a3a3a" stroke-width="0.25" fill="#3a3a3a" textLength="3.50" lengthAdjust="spacing">1</text>
<text x="466.20" y="402.20" font-family='"Liberation Serif",serif' font-size="10.2" stroke="#3a3a3a" stroke-width="0.1" fill="#3a3a3a" textLength="10.00" lengthAdjust="spacing">10</text>
<text x="496.00" y="402.20" font-family='"Liberation Serif",serif' font-size="10.2" stroke="#3a3a3a" stroke-width="0.1" fill="#3a3a3a" textLength="15.30" lengthAdjust="spacing">100</text>
</svg></body></html>
